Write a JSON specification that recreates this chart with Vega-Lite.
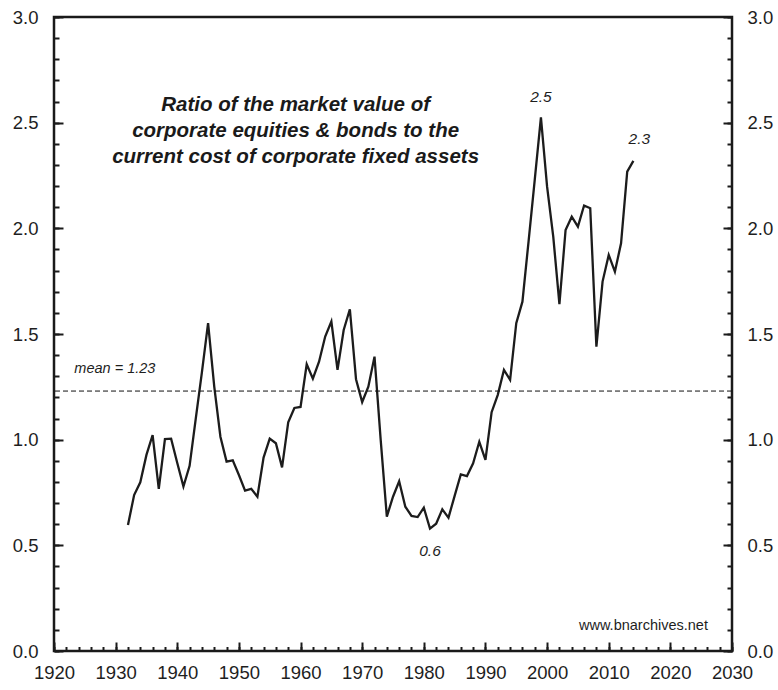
{
  "$schema": "https://vega.github.io/schema/vega-lite/v6.json",
  "width": 678,
  "height": 634,
  "autosize": "none",
  "padding": {"left": 54, "top": 17, "right": 46, "bottom": 39},
  "background": "white",
  "config": {
    "view": {"stroke": "#1a1a1a", "strokeWidth": 2.5},
    "axis": {
      "grid": false, "domain": false, "title": null,
      "labelFont": "Liberation Sans", "labelFontSize": 18.5, "labelColor": "#1e1e1e",
      "labelFlush": false, "labelOverlap": false, "labelBound": false,
      "tickColor": "#1a1a1a", "tickWidth": 2
    },
    "text": {"font": "Liberation Sans", "color": "#1e1e1e"}
  },
  "datasets": {
    "series": [
      {"year": 1932, "ratio": 0.596}, {"year": 1933, "ratio": 0.738}, {"year": 1934, "ratio": 0.798},
      {"year": 1935, "ratio": 0.928}, {"year": 1936, "ratio": 1.022}, {"year": 1937, "ratio": 0.767},
      {"year": 1938, "ratio": 1.003}, {"year": 1939, "ratio": 1.005}, {"year": 1940, "ratio": 0.89},
      {"year": 1941, "ratio": 0.778}, {"year": 1942, "ratio": 0.876}, {"year": 1943, "ratio": 1.10},
      {"year": 1944, "ratio": 1.32}, {"year": 1945, "ratio": 1.551}, {"year": 1946, "ratio": 1.251},
      {"year": 1947, "ratio": 1.014}, {"year": 1948, "ratio": 0.896}, {"year": 1949, "ratio": 0.902},
      {"year": 1950, "ratio": 0.833}, {"year": 1951, "ratio": 0.759}, {"year": 1952, "ratio": 0.767},
      {"year": 1953, "ratio": 0.730}, {"year": 1954, "ratio": 0.915}, {"year": 1955, "ratio": 1.005},
      {"year": 1956, "ratio": 0.983}, {"year": 1957, "ratio": 0.869}, {"year": 1958, "ratio": 1.082},
      {"year": 1959, "ratio": 1.150}, {"year": 1960, "ratio": 1.155}, {"year": 1961, "ratio": 1.357},
      {"year": 1962, "ratio": 1.289}, {"year": 1963, "ratio": 1.369}, {"year": 1964, "ratio": 1.488},
      {"year": 1965, "ratio": 1.559}, {"year": 1966, "ratio": 1.330}, {"year": 1967, "ratio": 1.519},
      {"year": 1968, "ratio": 1.617}, {"year": 1969, "ratio": 1.286}, {"year": 1970, "ratio": 1.178},
      {"year": 1971, "ratio": 1.251}, {"year": 1972, "ratio": 1.393}, {"year": 1973, "ratio": 1.00},
      {"year": 1974, "ratio": 0.636}, {"year": 1975, "ratio": 0.730}, {"year": 1976, "ratio": 0.803},
      {"year": 1977, "ratio": 0.683}, {"year": 1978, "ratio": 0.639}, {"year": 1979, "ratio": 0.634},
      {"year": 1980, "ratio": 0.678}, {"year": 1981, "ratio": 0.579}, {"year": 1982, "ratio": 0.602},
      {"year": 1983, "ratio": 0.670}, {"year": 1984, "ratio": 0.631}, {"year": 1985, "ratio": 0.734},
      {"year": 1986, "ratio": 0.836}, {"year": 1987, "ratio": 0.828}, {"year": 1988, "ratio": 0.888},
      {"year": 1989, "ratio": 0.990}, {"year": 1990, "ratio": 0.904}, {"year": 1991, "ratio": 1.130},
      {"year": 1992, "ratio": 1.212}, {"year": 1993, "ratio": 1.330}, {"year": 1994, "ratio": 1.283},
      {"year": 1995, "ratio": 1.551}, {"year": 1996, "ratio": 1.653}, {"year": 1997, "ratio": 1.94},
      {"year": 1998, "ratio": 2.23}, {"year": 1999, "ratio": 2.525}, {"year": 2000, "ratio": 2.197},
      {"year": 2001, "ratio": 1.961}, {"year": 2002, "ratio": 1.641}, {"year": 2003, "ratio": 1.992},
      {"year": 2004, "ratio": 2.055}, {"year": 2005, "ratio": 2.008}, {"year": 2006, "ratio": 2.108},
      {"year": 2007, "ratio": 2.095}, {"year": 2008, "ratio": 1.440}, {"year": 2009, "ratio": 1.748},
      {"year": 2010, "ratio": 1.874}, {"year": 2011, "ratio": 1.795}, {"year": 2012, "ratio": 1.929},
      {"year": 2013, "ratio": 2.268}, {"year": 2014, "ratio": 2.319}
    ],
    "one": [{}]
  },
  "layer": [
    {
      "data": {"name": "series"},
      "mark": {"type": "line", "color": "#1c1c1c", "strokeWidth": 2.3, "strokeJoin": "miter"},
      "encoding": {
        "x": {"field": "year", "type": "quantitative", "scale": {"domain": [1920, 2030], "nice": false, "zero": false},
              "axis": {"orient": "bottom", "values": [1920, 1930, 1940, 1950, 1960, 1970, 1980, 1990, 2000, 2010, 2020, 2030], "format": "d", "ticks": false, "labelPadding": 12}},
        "y": {"field": "ratio", "type": "quantitative", "scale": {"domain": [0, 3], "nice": false, "zero": false},
              "axis": {"orient": "left", "values": [0, 0.5, 1, 1.5, 2, 2.5, 3], "format": ".1f", "ticks": false, "labelPadding": 16}}
      }
    },
    {
      "data": {"name": "one"},
      "mark": {"type": "rule", "color": "#111111", "strokeWidth": 1, "strokeDash": [5, 3]},
      "encoding": {
        "y": {"datum": 1.23, "type": "quantitative", "scale": {"domain": [0, 3], "nice": false, "zero": false},
              "axis": {"orient": "left", "values": [0, 0.5, 1, 1.5, 2, 2.5, 3], "labels": false, "tickSize": 9, "offset": -9}}
      }
    },
    {
      "data": {"name": "one"},
      "mark": {"type": "text", "text": "mean = 1.23", "align": "left", "baseline": "alphabetic", "dy": -18, "fontSize": 14.5, "fontStyle": "italic"},
      "encoding": {
        "x": {"datum": 1923.3, "type": "quantitative", "scale": {"domain": [1920, 2030], "nice": false, "zero": false},
              "axis": {"orient": "bottom", "values": [1920, 1930, 1940, 1950, 1960, 1970, 1980, 1990, 2000, 2010, 2020, 2030], "labels": false, "tickSize": 9, "offset": -9}},
        "y": {"datum": 1.23, "type": "quantitative", "scale": {"domain": [0, 3], "nice": false, "zero": false},
              "axis": {"orient": "left", "values": [0, 0.1, 0.2, 0.3, 0.4, 0.5, 0.6, 0.7, 0.8, 0.9, 1, 1.1, 1.2, 1.3, 1.4, 1.5, 1.6, 1.7, 1.8, 1.9, 2, 2.1, 2.2, 2.3, 2.4, 2.5, 2.6, 2.7, 2.8, 2.9, 3], "labels": false, "tickSize": 5, "offset": -5}}
      }
    },
    {
      "data": {"name": "one"},
      "mark": {"type": "text", "text": "2.5", "align": "center", "baseline": "alphabetic", "dy": -15, "fontSize": 15.5, "fontStyle": "italic"},
      "encoding": {
        "x": {"datum": 1999, "type": "quantitative", "scale": {"domain": [1920, 2030], "nice": false, "zero": false},
              "axis": {"orient": "bottom", "values": [1920, 1922, 1924, 1926, 1928, 1930, 1932, 1934, 1936, 1938, 1940, 1942, 1944, 1946, 1948, 1950, 1952, 1954, 1956, 1958, 1960, 1962, 1964, 1966, 1968, 1970, 1972, 1974, 1976, 1978, 1980, 1982, 1984, 1986, 1988, 1990, 1992, 1994, 1996, 1998, 2000, 2002, 2004, 2006, 2008, 2010, 2012, 2014, 2016, 2018, 2020, 2022, 2024, 2026, 2028, 2030], "labels": false, "tickSize": 4.5, "offset": -4.5}},
        "y": {"datum": 2.525, "type": "quantitative", "scale": {"domain": [0, 3], "nice": false, "zero": false},
              "axis": {"orient": "right", "values": [0, 0.5, 1, 1.5, 2, 2.5, 3], "format": ".1f", "ticks": false, "labelPadding": 15}}
      }
    },
    {
      "data": {"name": "one"},
      "mark": {"type": "text", "text": "2.3", "align": "center", "baseline": "alphabetic", "dx": 6, "dy": -17, "fontSize": 15.5, "fontStyle": "italic"},
      "encoding": {
        "x": {"datum": 2014, "type": "quantitative", "scale": {"domain": [1920, 2030], "nice": false, "zero": false}, "axis": null},
        "y": {"datum": 2.319, "type": "quantitative", "scale": {"domain": [0, 3], "nice": false, "zero": false},
              "axis": {"orient": "right", "values": [0, 0.5, 1, 1.5, 2, 2.5, 3], "labels": false, "tickSize": 9, "offset": -9}}
      }
    },
    {
      "data": {"name": "one"},
      "mark": {"type": "text", "text": "0.6", "align": "center", "baseline": "alphabetic", "dy": 27, "fontSize": 15.5, "fontStyle": "italic"},
      "encoding": {
        "x": {"datum": 1981, "type": "quantitative", "scale": {"domain": [1920, 2030], "nice": false, "zero": false}, "axis": null},
        "y": {"datum": 0.579, "type": "quantitative", "scale": {"domain": [0, 3], "nice": false, "zero": false},
              "axis": {"orient": "right", "values": [0, 0.1, 0.2, 0.3, 0.4, 0.5, 0.6, 0.7, 0.8, 0.9, 1, 1.1, 1.2, 1.3, 1.4, 1.5, 1.6, 1.7, 1.8, 1.9, 2, 2.1, 2.2, 2.3, 2.4, 2.5, 2.6, 2.7, 2.8, 2.9, 3], "labels": false, "tickSize": 5, "offset": -5}}
      }
    },
    {
      "data": {"name": "one"},
      "mark": {"type": "text", "text": ["Ratio of the market value of", "corporate equities & bonds to the", "current cost of corporate fixed assets"], "align": "center", "baseline": "alphabetic", "lineHeight": 26, "fontSize": 20.5, "fontStyle": "italic", "fontWeight": "bold", "color": "#1a1a1a"},
      "encoding": {
        "x": {"datum": 1959.2, "type": "quantitative", "scale": {"domain": [1920, 2030], "nice": false, "zero": false}, "axis": null},
        "y": {"datum": 2.553, "type": "quantitative", "scale": {"domain": [0, 3], "nice": false, "zero": false}, "axis": null}
      }
    },
    {
      "data": {"name": "one"},
      "mark": {"type": "text", "text": "www.bnarchives.net", "align": "right", "baseline": "alphabetic", "fontSize": 14.5},
      "encoding": {
        "x": {"datum": 2026.1, "type": "quantitative", "scale": {"domain": [1920, 2030], "nice": false, "zero": false}, "axis": null},
        "y": {"datum": 0.1, "type": "quantitative", "scale": {"domain": [0, 3], "nice": false, "zero": false}, "axis": null}
      }
    }
  ],
  "resolve": {"axis": {"x": "independent", "y": "independent"}}
}
